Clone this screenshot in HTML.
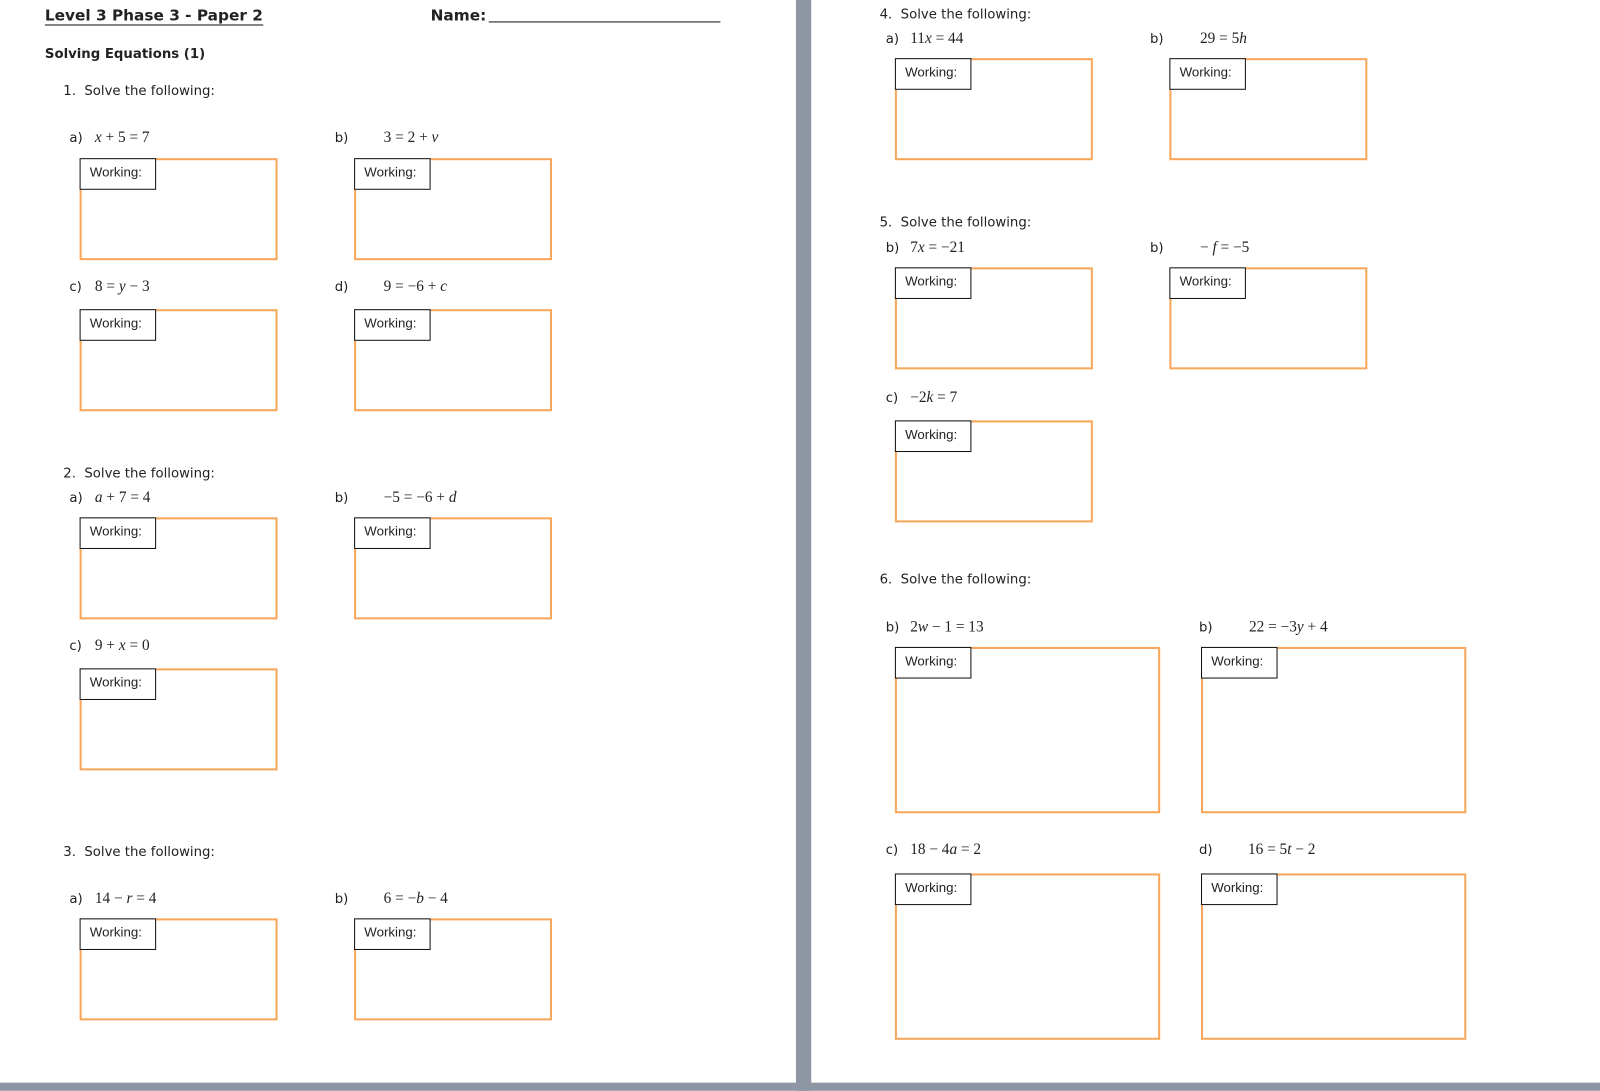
<!DOCTYPE html>
<html><head><meta charset="utf-8"><style>
html,body{margin:0;padding:0;background:#fff;width:1600px;height:1091px;overflow:hidden}
#w{position:absolute;left:0;top:0;width:1568px;height:1069px;transform:scale(1.0204);transform-origin:0 0}
.t{position:absolute;font-family:"DejaVu Sans","Liberation Sans",sans-serif;font-size:13px;color:#222;white-space:nowrap;line-height:16px;margin-top:2px}
.e{position:absolute;font-family:"Liberation Serif",serif;font-size:15px;color:#222;white-space:nowrap;line-height:16px;margin-top:1px}
.b{position:absolute;border:2px solid #f7a65a;box-sizing:border-box;width:194px;height:100px}
.b.L{width:260px;height:163px}
.b i{position:absolute;left:-2px;top:-2px;width:75px;height:31px;border:1.5px solid #111;box-sizing:border-box;background:#fff;font-style:normal;font-family:"Liberation Sans",sans-serif;font-size:13px;color:#222;padding:5px 0 0 9px}
</style></head><body><div id="w">
<div style="position:absolute;left:780px;top:0;width:15px;height:1069px;background:#8e96a3"></div>
<div style="position:absolute;left:0;top:1061px;width:1568px;height:8px;background:#8e96a3"></div>

<div class="t" style="left:44px;top:5px;font-size:15px;font-weight:bold;border-bottom:1.5px solid #111;line-height:17px">Level 3 Phase 3 - Paper 2</div>
<div class="t" style="left:422px;top:5px;font-size:15px;font-weight:bold">Name:</div>
<div style="position:absolute;left:479px;top:21px;width:227px;border-top:1px solid #111"></div>
<div class="t" style="left:44px;top:44px;font-weight:bold">Solving Equations (1)</div>

<div class="t" style="left:62px;top:80px">1.&nbsp; Solve the following:</div>
<div class="t" style="left:68px;top:126px">a)</div><div class="e" style="left:93px;top:126px"><i>x</i> + 5 = 7</div>
<div class="t" style="left:328px;top:126px">b)</div><div class="e" style="left:376px;top:126px">3 = 2 + <i>v</i></div>
<div class="b" style="left:78px;top:155px"><i>Working:</i></div>
<div class="b" style="left:347px;top:155px"><i>Working:</i></div>
<div class="t" style="left:68px;top:272px">c)</div><div class="e" style="left:93px;top:272px">8 = <i>y</i> − 3</div>
<div class="t" style="left:328px;top:272px">d)</div><div class="e" style="left:376px;top:272px">9 = −6 + <i>c</i></div>
<div class="b" style="left:78px;top:303px"><i>Working:</i></div>
<div class="b" style="left:347px;top:303px"><i>Working:</i></div>

<div class="t" style="left:62px;top:455px">2.&nbsp; Solve the following:</div>
<div class="t" style="left:68px;top:479px">a)</div><div class="e" style="left:93px;top:479px"><i>a</i> + 7 = 4</div>
<div class="t" style="left:328px;top:479px">b)</div><div class="e" style="left:376px;top:479px">−5 = −6 + <i>d</i></div>
<div class="b" style="left:78px;top:507px"><i>Working:</i></div>
<div class="b" style="left:347px;top:507px"><i>Working:</i></div>
<div class="t" style="left:68px;top:624px">c)</div><div class="e" style="left:93px;top:624px">9 + <i>x</i> = 0</div>
<div class="b" style="left:78px;top:655px"><i>Working:</i></div>

<div class="t" style="left:62px;top:826px">3.&nbsp; Solve the following:</div>
<div class="t" style="left:68px;top:872px">a)</div><div class="e" style="left:93px;top:872px">14 − <i>r</i> = 4</div>
<div class="t" style="left:328px;top:872px">b)</div><div class="e" style="left:376px;top:872px">6 = −<i>b</i> − 4</div>
<div class="b" style="left:78px;top:900px"><i>Working:</i></div>
<div class="b" style="left:347px;top:900px"><i>Working:</i></div>

<div class="t" style="left:862px;top:5px">4.&nbsp; Solve the following:</div>
<div class="t" style="left:868px;top:29px">a)</div><div class="e" style="left:892px;top:29px">11<i>x</i> = 44</div>
<div class="t" style="left:1127px;top:29px">b)</div><div class="e" style="left:1176px;top:29px">29 = 5<i>h</i></div>
<div class="b" style="left:877px;top:57px"><i>Working:</i></div>
<div class="b" style="left:1146px;top:57px"><i>Working:</i></div>

<div class="t" style="left:862px;top:209px">5.&nbsp; Solve the following:</div>
<div class="t" style="left:868px;top:234px">b)</div><div class="e" style="left:892px;top:234px">7<i>x</i> = −21</div>
<div class="t" style="left:1127px;top:234px">b)</div><div class="e" style="left:1176px;top:234px">− <i>f</i> = −5</div>
<div class="b" style="left:877px;top:262px"><i>Working:</i></div>
<div class="b" style="left:1146px;top:262px"><i>Working:</i></div>
<div class="t" style="left:868px;top:381px">c)</div><div class="e" style="left:892px;top:381px">−2<i>k</i> = 7</div>
<div class="b" style="left:877px;top:412px"><i>Working:</i></div>

<div class="t" style="left:862px;top:559px">6.&nbsp; Solve the following:</div>
<div class="t" style="left:868px;top:606px">b)</div><div class="e" style="left:892px;top:606px">2<i>w</i> − 1 = 13</div>
<div class="t" style="left:1175px;top:606px">b)</div><div class="e" style="left:1224px;top:606px">22 = −3<i>y</i> + 4</div>
<div class="b L" style="left:877px;top:634px"><i>Working:</i></div>
<div class="b L" style="left:1177px;top:634px"><i>Working:</i></div>
<div class="t" style="left:868px;top:824px">c)</div><div class="e" style="left:892px;top:824px">18 − 4<i>a</i> = 2</div>
<div class="t" style="left:1175px;top:824px">d)</div><div class="e" style="left:1223px;top:824px">16 = 5<i>t</i> − 2</div>
<div class="b L" style="left:877px;top:856px"><i>Working:</i></div>
<div class="b L" style="left:1177px;top:856px"><i>Working:</i></div>
</div></body></html>
